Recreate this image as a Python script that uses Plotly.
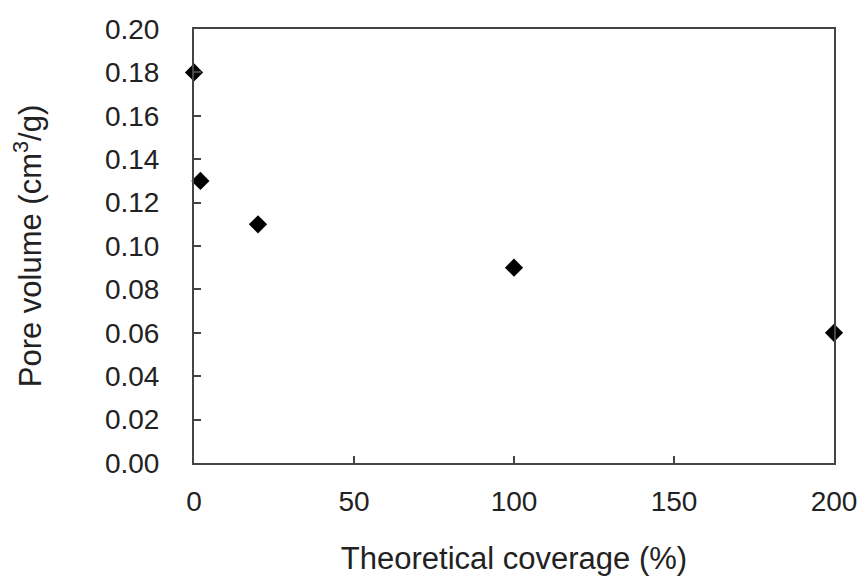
import plotly.graph_objects as go

coverage = [0, 2, 20, 100, 200]
pore_volume = [0.18, 0.13, 0.11, 0.09, 0.06]
x_ticks = [0, 50, 100, 150, 200]
y_ticks = [0.00, 0.02, 0.04, 0.06, 0.08, 0.10, 0.12, 0.14, 0.16, 0.18, 0.20]

font_family = "Liberation Sans, Arial, sans-serif"
axis_color = "#444444"

fig = go.Figure()
fig.add_trace(go.Scatter(
    x=coverage, y=pore_volume, mode="markers",
    marker=dict(symbol="diamond", size=14, color="black"),
    cliponaxis=False, showlegend=False,
))

fig.update_layout(
    width=866, height=580,
    margin=dict(l=194, r=32, t=29, b=117, autoexpand=False),
    paper_bgcolor="white", plot_bgcolor="white",
    font=dict(family=font_family, size=28, color="#222222"),
    xaxis=dict(
        range=[0, 200], tickvals=x_ticks, ticktext=[str(v) for v in x_ticks],
        ticks="inside", ticklen=7, tickwidth=1.5, tickcolor=axis_color,
        showline=True, linecolor=axis_color, linewidth=2, mirror=True,
        showgrid=False, zeroline=False, ticklabelstandoff=12,
        tickfont=dict(size=28),
        title=dict(text="Theoretical coverage (%)", font=dict(size=31), standoff=32),
    ),
    yaxis=dict(
        range=[0, 0.20], tickvals=y_ticks, ticktext=[f"{v:.2f}" for v in y_ticks],
        ticks="inside", ticklen=7, tickwidth=1.5, tickcolor=axis_color,
        showline=True, linecolor=axis_color, linewidth=2, mirror=True,
        showgrid=False, zeroline=False, ticklabelstandoff=27,
        tickfont=dict(size=28),
        title=dict(text="Pore volume (cm<sup>3</sup>/g)", font=dict(size=31), standoff=54),
    ),
)

fig.write_html("out.html")
